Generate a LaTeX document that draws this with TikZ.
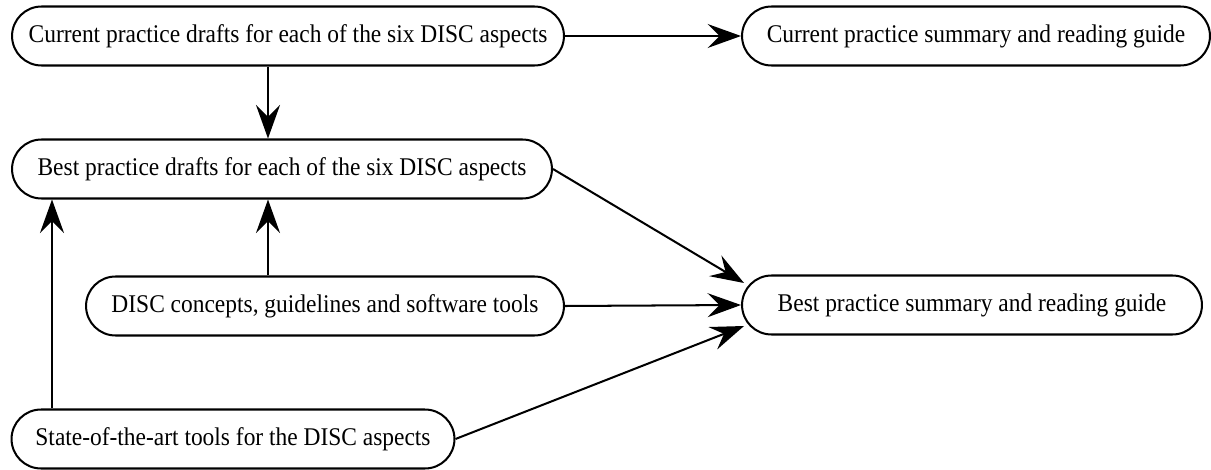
\documentclass[tikz,border=0pt]{standalone}
\usepackage{fontspec}
\setmainfont{Liberation Serif}[FakeStretch=0.92]
\usetikzlibrary{shapes.misc}
\usetikzlibrary{arrows.meta}

\begin{document}
\begin{tikzpicture}[x=0.02cm,y=-0.02cm,
  box/.style={rounded rectangle,draw=black,line width=1.15pt,minimum height=1.18cm,inner sep=0pt,font=\fontsize{14.5}{17}\selectfont,text=black},
  link/.style={black,line width=1.15pt,-{Stealth[length=0.67cm,width=0.48cm,inset=0.24cm]}}]
\useasboundingbox (0,0) rectangle (1211,470);

\node[box,minimum width=11.04cm] (A) at (288,36) {Current practice drafts for each of the six DISC aspects};
\node[box,minimum width=9.36cm] (B) at (976,36) {Current practice summary and reading guide};
\node[box,minimum width=10.8cm] (B2) at (282,169) {Best practice drafts for each of the six DISC aspects};
\node[box,minimum width=9.56cm] (C) at (325,306) {DISC concepts, guidelines and software tools};
\node[box,minimum width=9.2cm] (D) at (972,305) {Best practice summary and reading guide};
\node[box,minimum width=8.86cm] (E) at (233,439) {State-of-the-art tools for the DISC aspects};

\draw[link] (A.east) -- (B.west);
\draw[link] (A.south -| 268,0) -- (B2.north -| 268,0);
\draw[link] (C.north -| 268,0) -- (B2.south -| 268,0);
\draw[link] (E.north -| 52,0) -- (B2.south -| 52,0);
\draw[link] (B2.east) -- ([shift={(3,-22)}]D.west);
\draw[link] (C.east) -- (D.west);
\draw[link] (E.east) -- ([shift={(3,21)}]D.west);

\end{tikzpicture}
\end{document}
